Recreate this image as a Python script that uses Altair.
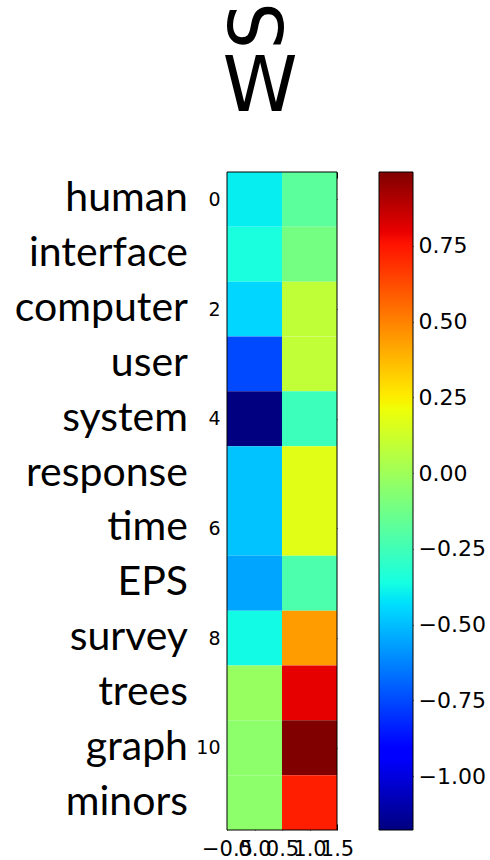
import altair as alt
import pandas as pd

# Term loadings on the first two singular dimensions
terms = ["human", "interface", "computer", "user", "system", "response",
         "time", "EPS", "survey", "trees", "graph", "minors"]
dim0 = [-0.40, -0.35, -0.45, -0.75, -1.178, -0.49, -0.49, -0.555, -0.37, -0.02, -0.05, -0.05]
dim1 = [-0.18, -0.11, 0.085, 0.09, -0.26, 0.175, 0.175, -0.22, 0.44, 0.80, 0.994, 0.73]

row_ticks = [0, 2, 4, 6, 8, 10]
col_ticks = [-0.5, 0.0, 0.5, 1.0, 1.5]
cbar_ticks = [-1.0, -0.75, -0.5, -0.25, 0.0, 0.25, 0.5, 0.75]

# matplotlib "jet" colormap breakpoints
jet_stops = [0.0, 0.11, 0.125, 0.34, 0.35, 0.375, 0.64, 0.65, 0.66, 0.89, 0.91, 1.0]
jet_colors = ["#000080", "#0000ff", "#0000ff", "#00dbff", "#00e5f7", "#15ffe2",
              "#efff08", "#f7f500", "#ffec00", "#ff1300", "#e80000", "#800000"]

vmin = min(dim0 + dim1)
vmax = max(dim0 + dim1)
color_domain = [vmin + t * (vmax - vmin) for t in jet_stops]

rows = []
for i, term in enumerate(terms):
    for j, v in enumerate((dim0[i], dim1[i])):
        rows.append({"row": i, "col": j, "value": v,
                     "x0": j - 0.5, "x1": j + 0.5, "y0": i - 0.5, "y1": i + 0.5})
cells_df = pd.DataFrame(rows)
terms_df = pd.DataFrame({"term": terms, "row": list(range(len(terms)))})

W_HEAT, H = 110, 658
CB_LEFT, CB_RIGHT = 152, 186

xs = alt.Scale(domain=[-0.5, 1.5], range=[0, W_HEAT], nice=False, zero=False)
ys = alt.Scale(domain=[-0.5, 11.5], range=[0, H], nice=False, zero=False)

tick_font = "DejaVu Sans"

cells = alt.Chart(cells_df).mark_rect().encode(
    x=alt.X("x0:Q", scale=xs, axis=alt.Axis(
        values=col_ticks, format=".1f", orient="bottom", title=None,
        tickSize=6, offset=-6, labelPadding=8, labelFontSize=21,
        labelOverlap=False, labelFlush=False, labelBound=False)),
    x2="x1:Q",
    y=alt.Y("y0:Q", scale=ys, axis=alt.Axis(
        values=row_ticks, format="d", orient="left", title=None,
        tickSize=6, offset=-6, labelPadding=7, labelFontSize=19)),
    y2="y1:Q",
    color=alt.Color("value:Q", legend=None,
                    scale=alt.Scale(domain=color_domain, range=jet_colors,
                                    interpolate="rgb")),
)

frame = alt.Chart(pd.DataFrame({"x0": [-0.5], "x1": [1.5], "y0": [-0.5], "y1": [11.5]})).mark_rect(
    fillOpacity=0, stroke="black", strokeWidth=1
).encode(
    x=alt.X("x0:Q", scale=xs, axis=alt.Axis(
        values=col_ticks, orient="top", labels=False, title=None,
        tickSize=6, offset=-6)),
    x2="x1:Q",
    y=alt.Y("y0:Q", scale=ys, axis=alt.Axis(
        values=row_ticks, orient="right", labels=False, title=None,
        tickSize=6, offset=-(CB_RIGHT - W_HEAT) - 6)),
    y2="y1:Q",
)

words = alt.Chart(terms_df).mark_text(
    align="right", baseline="alphabetic", font="Lato", fontSize=41, dy=12, color="black"
).encode(
    x=alt.value(-39),
    y=alt.Y("row:Q", scale=ys, axis=None),
    text="term:N",
)

glyph_s = alt.Chart(pd.DataFrame({"t": ["S"]})).mark_text(
    angle=270, align="center", baseline="middle", font="DejaVu Sans",
    fontSize=74, color="black"
).encode(x=alt.value(34), y=alt.value(-146), text="t:N")

glyph_w = alt.Chart(pd.DataFrame({"t": ["W"]})).mark_text(
    align="center", baseline="middle", font="DejaVu Sans",
    fontSize=76, color="black"
).encode(x=alt.value(33), y=alt.value(-84), text="t:N")

heat = alt.layer(cells, frame, words, glyph_s, glyph_w).resolve_axis(
    x="independent", y="independent")

# colour bar: one rectangle filled with the jet gradient
gradient = alt.LinearGradient(
    gradient="linear",
    stops=[alt.GradientStop(offset=t, color=c) for t, c in zip(jet_stops, jet_colors)],
    x1=0, x2=0, y1=1, y2=0,
)
cbar = alt.Chart(pd.DataFrame({"lo": [vmin], "hi": [vmax], "a": [0], "b": [1]})).mark_rect(
    fill=gradient, stroke="black", strokeWidth=1
).encode(
    x=alt.X("a:Q", scale=alt.Scale(domain=[0, 1], range=[CB_LEFT, CB_RIGHT]), axis=None),
    x2="b:Q",
    y=alt.Y("lo:Q", scale=alt.Scale(domain=[vmin, vmax], range=[H, 0], nice=False, zero=False),
            axis=alt.Axis(values=cbar_ticks, format=".2f", orient="right", title=None,
                          tickSize=8, offset=-8, labelPadding=5, labelFontSize=22)),
    y2="hi:Q",
)

chart = alt.layer(heat, cbar).resolve_scale(
    x="independent", y="independent"
).resolve_axis(
    x="independent", y="independent"
).properties(
    width=CB_RIGHT, height=H,
    background="white",
    autosize=alt.AutoSizeParams(type="none"),
    padding={"left": 227, "top": 172, "right": 490 - 227 - CB_RIGHT, "bottom": 860 - 172 - H},
).configure_view(
    stroke=None
).configure_axis(
    grid=False, domain=False, labelFont=tick_font, labelColor="black", tickColor="black"
)

chart.save("out.html", embed_options={"renderer": "svg", "actions": False})
